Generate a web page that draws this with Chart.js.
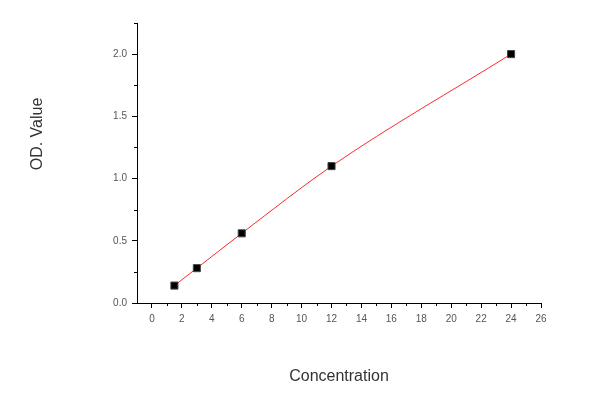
<!DOCTYPE html>
<html>
<head>
<meta charset="utf-8">
<script src="https://cdn.jsdelivr.net/npm/chart.js@4"></script>
<style>
  html, body { margin: 0; padding: 0; background: #fff; }
  #wrap { width: 600px; height: 402px; }
</style>
</head>
<body>
<div id="wrap"><canvas id="odChart" width="600" height="402"></canvas></div>
<script>
"use strict";
// measured points (concentration / OD)
const concentration = [1.5, 3, 6, 12, 24];
const odValues = [0.14, 0.28, 0.56, 1.1, 2.0];

const xTicks = [0, 2, 4, 6, 8, 10, 12, 14, 16, 18, 20, 22, 24, 26];
const xMinorTicks = [1, 3, 5, 7, 9, 11, 13, 15, 17, 19, 21, 23, 25];
const yTicks = [0, 0.5, 1.0, 1.5, 2.0];
const yMinorTicks = [0.25, 0.75, 1.25, 1.75, 2.25];

const pts = concentration.map((c, i) => ({ x: c, y: odValues[i] }));

// short minor tick marks + the y title (sits above the middle in the original)
const extras = {
    id: 'extras',
    afterDraw(chart) {
        const ctx = chart.ctx;
        const xs = chart.scales.x, ys = chart.scales.y;
        ctx.save();
        ctx.strokeStyle = '#000';
        ctx.lineWidth = 1;
        ctx.beginPath();
        xMinorTicks.forEach(v => {
            const px = Math.round(xs.getPixelForValue(v)) + 0.5;
            ctx.moveTo(px, xs.top);
            ctx.lineTo(px, xs.top + 3);
        });
        yMinorTicks.forEach(v => {
            const py = Math.round(ys.getPixelForValue(v)) + 0.5;
            ctx.moveTo(ys.right, py);
            ctx.lineTo(ys.right - 3, py);
        });
        ctx.stroke();

        ctx.translate(38, 134);
        ctx.rotate(-Math.PI / 2);
        ctx.fillStyle = '#333';
        ctx.font = '16px "Liberation Sans", Arial';
        ctx.textAlign = 'center';
        ctx.textBaseline = 'middle';
        ctx.fillText('OD. Value', 0, 0);
        ctx.restore();
    }
};

new Chart(document.getElementById('odChart'), {
    type: 'scatter',
    data: {
        datasets: [{
            label: 'OD',
            data: pts,
            pointStyle: 'rect',
            pointRadius: 5,
            pointBackgroundColor: '#000',
            pointBorderColor: '#444',
            pointBorderWidth: 1,
            showLine: false
        }, {
            label: 'fit',
            data: pts,
            showLine: true,
            borderColor: '#ff2a2a',
            borderWidth: 1,
            pointRadius: 0,
            cubicInterpolationMode: 'monotone'
        }]
    },
    options: {
        responsive: false,
        animation: false,
        layout: { padding: { left: 28, top: 23, right: 59, bottom: 16 } },
        plugins: {
            legend: { display: false },
            tooltip: { enabled: false }
        },
        scales: {
            x: {
                type: 'linear',
                min: -1,
                max: 26,
                afterBuildTicks: s => { s.ticks = xTicks.map(v => ({ value: v })); },
                afterFit: s => { s.height = 83; },
                border: { color: '#000', width: 1 },
                grid: { drawOnChartArea: false, tickLength: 5, tickColor: '#000' },
                ticks: {
                    color: '#555',
                    font: { family: 'Liberation Sans, Arial', size: 10 },
                    padding: 5,
                    maxRotation: 0,
                    autoSkip: false
                },
                title: {
                    display: true,
                    text: 'Concentration',
                    color: '#333',
                    font: { family: 'Liberation Sans, Arial', size: 16 },
                    padding: 0
                }
            },
            y: {
                min: 0,
                max: 2.25,
                afterBuildTicks: s => { s.ticks = yTicks.map(v => ({ value: v })); },
                afterFit: s => { s.width = 109; },
                border: { color: '#000', width: 1 },
                grid: { drawOnChartArea: false, tickLength: 5, tickColor: '#000' },
                ticks: {
                    color: '#555',
                    font: { family: 'Liberation Sans, Arial', size: 10 },
                    padding: 5,
                    callback: v => v.toFixed(1)
                }
            }
        }
    },
    plugins: [extras]
});
</script>
</body>
</html>
